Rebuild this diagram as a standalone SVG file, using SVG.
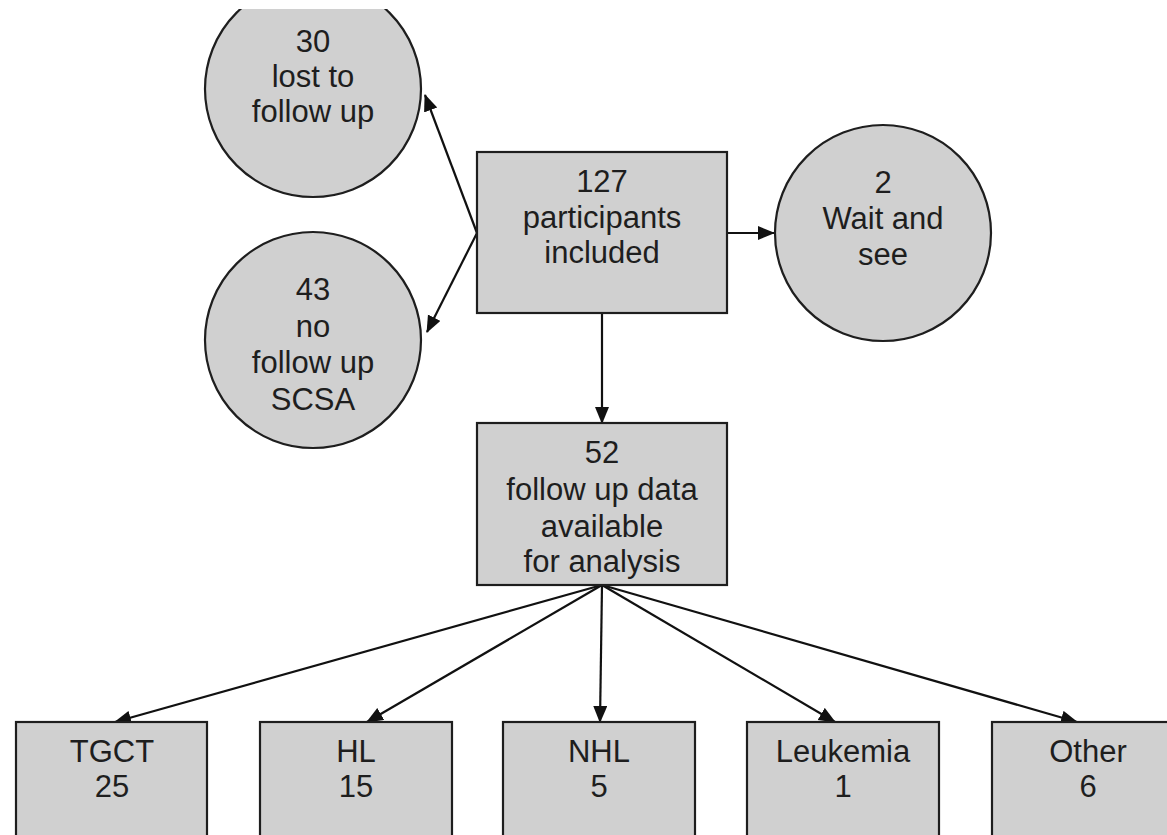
<svg xmlns="http://www.w3.org/2000/svg" width="1167" height="835" viewBox="0 0 1167 835">
  <style>
    .shape { fill: #d0d0d0; stroke: #1e1e1e; stroke-width: 2.2; }
    .lbl { font-family: "Liberation Sans", Arial, sans-serif; font-size: 31px; fill: #1e1e1e; text-anchor: middle; }
    .conn { stroke: #111; stroke-width: 2.2; fill: none; marker-end: url(#arrow); }
  </style>
  <defs>
    <marker id="arrow" markerWidth="18" markerHeight="16" refX="16" refY="7" orient="auto" markerUnits="userSpaceOnUse">
      <path d="M0,0 L17,7 L0,14 z" fill="#111"/>
    </marker>
    <clipPath id="topclip">
      <rect x="0" y="9" width="1167" height="826"/>
    </clipPath>
  </defs>
  <rect x="0" y="0" width="1167" height="835" fill="#ffffff"/>

  <g id="connectors">
    <line class="conn" x1="477" y1="233" x2="425" y2="95"/>
    <line class="conn" x1="477" y1="233" x2="427" y2="332"/>
    <line class="conn" x1="727" y1="233" x2="774" y2="233"/>
    <line class="conn" x1="602" y1="313" x2="602" y2="423"/>
    <line class="conn" x1="602" y1="585" x2="115" y2="722"/>
    <line class="conn" x1="602" y1="585" x2="367" y2="722"/>
    <line class="conn" x1="602" y1="585" x2="600" y2="722"/>
    <line class="conn" x1="602" y1="585" x2="835" y2="722"/>
    <line class="conn" x1="602" y1="585" x2="1077" y2="722"/>
  </g>

  <g id="lost" clip-path="url(#topclip)">
    <circle class="shape" cx="313" cy="89" r="108"/>
    <text class="lbl" x="313" y="52">30</text>
    <text class="lbl" x="313" y="87">lost to</text>
    <text class="lbl" x="313" y="122">follow up</text>
  </g>

  <g id="noscsa">
    <circle class="shape" cx="313" cy="340" r="108"/>
    <text class="lbl" x="313" y="300">43</text>
    <text class="lbl" x="313" y="337">no</text>
    <text class="lbl" x="313" y="373">follow up</text>
    <text class="lbl" x="313" y="410">SCSA</text>
  </g>

  <g id="included">
    <rect class="shape" x="477" y="152" width="250" height="161"/>
    <text class="lbl" x="602" y="192">127</text>
    <text class="lbl" x="602" y="228">participants</text>
    <text class="lbl" x="602" y="263">included</text>
  </g>

  <g id="wait">
    <circle class="shape" cx="883" cy="233" r="108"/>
    <text class="lbl" x="883" y="193">2</text>
    <text class="lbl" x="883" y="229">Wait and</text>
    <text class="lbl" x="883" y="265">see</text>
  </g>

  <g id="followup">
    <rect class="shape" x="477" y="423" width="250" height="162"/>
    <text class="lbl" x="602" y="463">52</text>
    <text class="lbl" x="602" y="500">follow up data</text>
    <text class="lbl" x="602" y="537">available</text>
    <text class="lbl" x="602" y="572">for analysis</text>
  </g>

  <g id="tgct">
    <rect class="shape" x="16" y="722" width="191" height="130"/>
    <text class="lbl" x="112" y="762">TGCT</text>
    <text class="lbl" x="112" y="797">25</text>
  </g>

  <g id="hl">
    <rect class="shape" x="260" y="722" width="192" height="130"/>
    <text class="lbl" x="356" y="762">HL</text>
    <text class="lbl" x="356" y="797">15</text>
  </g>

  <g id="nhl">
    <rect class="shape" x="503" y="722" width="192" height="130"/>
    <text class="lbl" x="599" y="762">NHL</text>
    <text class="lbl" x="599" y="797">5</text>
  </g>

  <g id="leukemia">
    <rect class="shape" x="747" y="722" width="192" height="130"/>
    <text class="lbl" x="843" y="762">Leukemia</text>
    <text class="lbl" x="843" y="797">1</text>
  </g>

  <g id="other">
    <rect class="shape" x="992" y="722" width="192" height="130"/>
    <text class="lbl" x="1088" y="762">Other</text>
    <text class="lbl" x="1088" y="797">6</text>
  </g>
</svg>
